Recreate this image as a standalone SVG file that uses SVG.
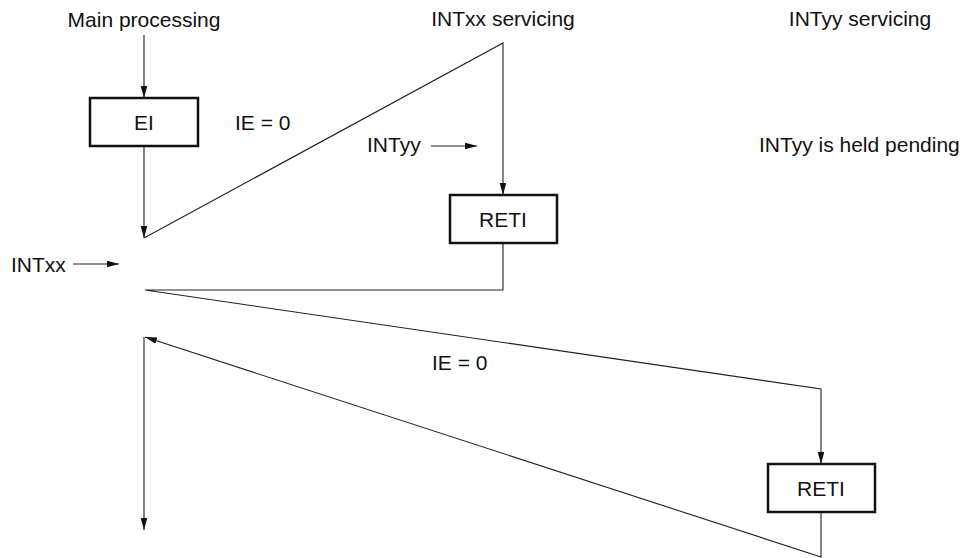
<svg xmlns="http://www.w3.org/2000/svg" width="968" height="558" viewBox="0 0 968 558">
<style>
text{font-family:"Liberation Sans",Arial,Helvetica,sans-serif;font-size:21px;fill:#111}
.box{fill:#fff;stroke:#111;stroke-width:2.5}
.c{fill:none;stroke:#222;stroke-width:1.1}
.a{marker-end:url(#ah)}
</style>
<defs>
<marker id="ah" markerUnits="userSpaceOnUse" markerWidth="13" markerHeight="8" refX="12" refY="3.3" orient="auto">
<path d="M0,0 L12,3.3 L0,6.6 z" fill="#111"/>
</marker>
</defs>
<rect width="968" height="558" fill="#fff"/>
<g id="labels">
<text x="144" y="27" text-anchor="middle">Main processing</text>
<text x="503" y="26" text-anchor="middle">INTxx servicing</text>
<text x="860" y="26" text-anchor="middle">INTyy servicing</text>
<text x="235" y="130">IE = 0</text>
<text x="367" y="152">INTyy</text>
<text x="759" y="152">INTyy is held pending</text>
<text x="11" y="272">INTxx</text>
<text x="432" y="370">IE = 0</text>
</g>
<g id="connectors">
<path class="c a" d="M144,35 L144,98"/>
<path class="c a" d="M144,146 L144,238"/>
<path class="c a" d="M144,238 L503,43 L503,195"/>
<path class="c a" d="M503,243 L503,290 L145,290 L821,389 L821,464"/>
<path class="c a" d="M821,512 L821,557 L145,337"/>
<path class="c a" d="M144,337 L144,530"/>
<path class="c a" d="M73,264 L119,264"/>
<path class="c a" d="M431,146 L477,146"/>
</g>
<g id="node-ei">
<rect class="box" x="90" y="98" width="108" height="48"/>
<text x="144" y="130" text-anchor="middle">EI</text>
</g>
<g id="node-reti1">
<rect class="box" x="450" y="195" width="107" height="48"/>
<text x="503" y="227" text-anchor="middle">RETI</text>
</g>
<g id="node-reti2">
<rect class="box" x="768" y="464" width="107" height="48"/>
<text x="821" y="496" text-anchor="middle">RETI</text>
</g>
</svg>
